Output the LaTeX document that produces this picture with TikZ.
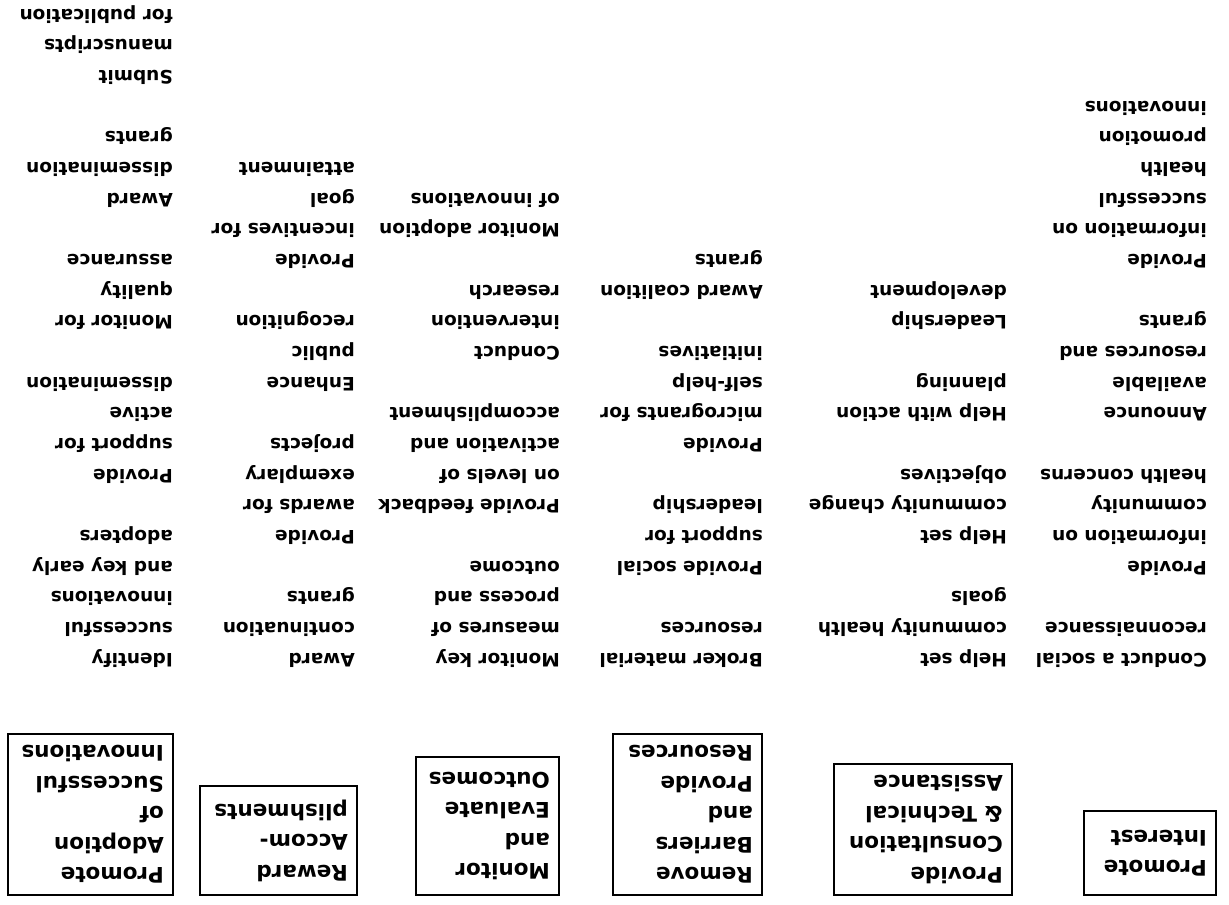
\documentclass[tikz,border=0pt]{standalone}
\usepackage{fontspec}
\setmainfont{DejaVu Sans}
\tikzset{
  listtxt/.style={anchor=west, inner sep=0pt, font=\fontsize{18.5}{22}\selectfont\bfseries, text height=13.5pt, text depth=0pt},
  stagebox/.style={draw, line width=2pt, anchor=north west, align=left, inner xsep=9pt, inner ysep=0pt, font=\fontsize{21.5}{30.5}\selectfont\bfseries}
}
\newcommand{\rowy}[1]{-(245+(#1-1)*30.67)}
\begin{document}
\begin{tikzpicture}[x=1pt,y=1pt]
\useasboundingbox (-1229,0) rectangle (0,905);
\begin{scope}[rotate=180, transform shape]
  % stage boxes
  \node[stagebox, text width=114pt, minimum height=84pt]  (b1) at (12,-9)   {Promote\\Interest};
  \node[stagebox, text width=160pt, minimum height=131pt] (b2) at (216,-9)  {Provide\\Consultation\\\& Technical\\Assistance};
  \node[stagebox, text width=131pt, minimum height=161pt] (b3) at (466,-9)  {Remove\\Barriers\\and\\Provide\\Resources};
  \node[stagebox, text width=125pt, minimum height=138pt] (b4) at (669,-9)  {Monitor\\and\\Evaluate\\Outcomes};
  \node[stagebox, text width=139pt, minimum height=109pt] (b5) at (871,-9)  {Reward\\Accom-\\plishments};
  \node[stagebox, text width=147pt, minimum height=161pt] (b6) at (1055,-9) {Promote\\Adoption\\of\\Successful\\Innovations};
  % column 1
  \foreach \r/\t in {1/Conduct a social, 2/reconnaissance, 4/Provide, 5/information on, 6/community, 7/health concerns, 9/Announce, 10/available, 11/resources and, 12/grants, 14/Provide, 15/information on, 16/successful, 17/health, 18/promotion, 19/innovations}
    \node[listtxt] (ca\r) at (22,{\rowy{\r}}) {\t};
  % column 2
  \foreach \r/\t in {1/Help set, 2/community health, 3/goals, 5/Help set, 6/community change, 7/objectives, 9/Help with action, 10/planning, 12/Leadership, 13/development}
    \node[listtxt] (cb\r) at (222,{\rowy{\r}}) {\t};
  % column 3
  \foreach \r/\t in {1/Broker material, 2/resources, 4/Provide social, 5/support for, 6/leadership, 8/Provide, 9/microgrants for, 10/self-help, 11/initiatives, 13/Award coalition, 14/grants}
    \node[listtxt] (cc\r) at (466,{\rowy{\r}}) {\t};
  % column 4
  \foreach \r/\t in {1/Monitor key, 2/measures of, 3/process and, 4/outcome, 6/Provide feedback, 7/on levels of, 8/activation and, 9/accomplishment, 11/Conduct, 12/intervention, 13/research, 15/Monitor adoption, 16/of innovations}
    \node[listtxt] (cd\r) at (669,{\rowy{\r}}) {\t};
  % column 5
  \foreach \r/\t in {1/Award, 2/continuation, 3/grants, 5/Provide, 6/awards for, 7/exemplary, 8/projects, 10/Enhance, 11/public, 12/recognition, 14/Provide, 15/incentives for, 16/goal, 17/attainment}
    \node[listtxt] (ce\r) at (874,{\rowy{\r}}) {\t};
  % column 6
  \foreach \r/\t in {1/Identify, 2/successful, 3/innovations, 4/and key early, 5/adopters, 7/Provide, 8/support for, 9/active, 10/dissemination, 12/Monitor for, 13/quality, 14/assurance, 16/Award, 17/dissemination, 18/grants, 20/Submit, 21/manuscripts, 22/for publication}
    \node[listtxt] (cf\r) at (1056,{\rowy{\r}}) {\t};
\end{scope}
\end{tikzpicture}
\end{document}
